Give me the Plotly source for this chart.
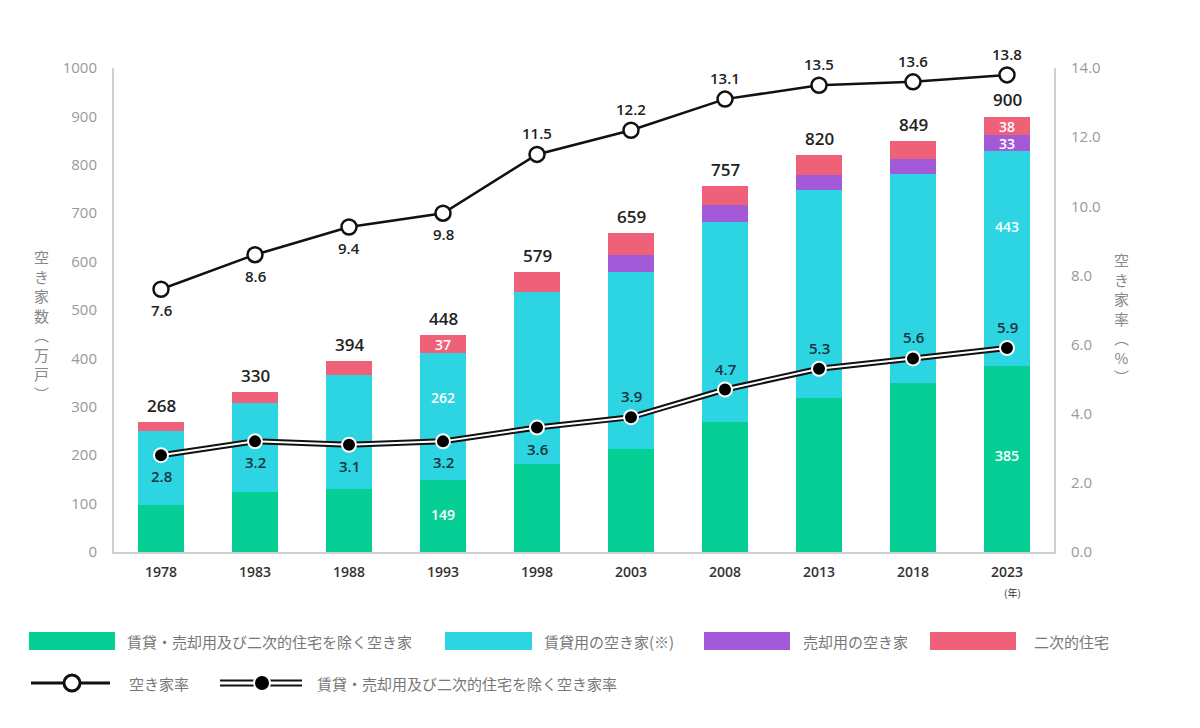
import plotly.graph_objects as go

# ---------------- data ----------------
years = ["1978", "1983", "1988", "1993", "1998", "2003", "2008", "2013", "2018", "2023"]
other = [98, 125, 131, 149, 182, 212, 268, 318, 349, 385]      # 賃貸・売却用及び二次的住宅を除く空き家
rental = [152, 183, 234, 262, 355, 367, 413, 429, 433, 443]    # 賃貸用の空き家
sale = [0, 0, 0, 0, 0, 35, 35, 31, 29, 33]                     # 売却用の空き家
second = [18, 22, 29, 37, 42, 45, 41, 42, 38, 38]              # 二次的住宅
totals = [268, 330, 394, 448, 579, 659, 757, 820, 849, 900]
rate = [7.6, 8.6, 9.4, 9.8, 11.5, 12.2, 13.1, 13.5, 13.6, 13.8]
rate_other = [2.8, 3.2, 3.1, 3.2, 3.6, 3.9, 4.7, 5.3, 5.6, 5.9]

left_ticks = [0, 100, 200, 300, 400, 500, 600, 700, 800, 900, 1000]
right_ticks = [0, 2, 4, 6, 8, 10, 12, 14]
inside_label_years = ["1993", "2023"]
rate_label_below = [True] * 4 + [False] * 6
rate_other_label_below = [True] * 5 + [False] * 5

# ---------------- style ----------------
C_GREEN = "#06cf95"
C_CYAN = "#2dd4e1"
C_PURPLE = "#a25ad8"
C_PINK = "#ef6079"
NUM_FONT = "Open Sans"
JP_FONT = "Noto Sans CJK JP"

OFF = 8  # page body margin
W, H = 1200, 728
# desired plot area on screen: x 114..1054, y 68..552
L, T = 114 - OFF, 68 - OFF
R = W - (1054 - OFF)
B = H - (552 - OFF)
PW, PH = W - L - R, H - T - B


def px2x(px):
    return (px - OFF - L) / PW


def py2y(py):
    return (H - B - (py - OFF)) / PH


fig = go.Figure()

for name, vals, col in [
    ("賃貸・売却用及び二次的住宅を除く空き家", other, C_GREEN),
    ("賃貸用の空き家(※)", rental, C_CYAN),
    ("売却用の空き家", sale, C_PURPLE),
    ("二次的住宅", second, C_PINK),
]:
    fig.add_trace(go.Bar(x=years, y=vals, name=name, marker=dict(color=col, line=dict(width=0)),
                         width=0.48, showlegend=False, hoverinfo="skip"))

# upper line: 空き家率
fig.add_trace(go.Scatter(
    x=years, y=rate, yaxis="y2", mode="lines+markers",
    line=dict(color="#111", width=2.5),
    marker=dict(size=15, color="white", line=dict(color="#111", width=2.5)),
    showlegend=False, hoverinfo="skip", cliponaxis=False))

# lower double line
fig.add_trace(go.Scatter(
    x=years, y=rate_other, yaxis="y2", mode="lines",
    line=dict(color="#111", width=6), showlegend=False, hoverinfo="skip"))
fig.add_trace(go.Scatter(
    x=years, y=rate_other, yaxis="y2", mode="lines+markers",
    line=dict(color="white", width=2),
    marker=dict(size=14, color="#000", line=dict(color="white", width=2)),
    showlegend=False, hoverinfo="skip", cliponaxis=False))

annotations = []
# line value labels
for vals, below_flags, col in [(rate, rate_label_below, "#222"),
                               (rate_other, rate_other_label_below, "#1c3340")]:
    for i, (v, below) in enumerate(zip(vals, below_flags)):
        annotations.append(dict(x=i, y=v, xref="x", yref="y2", text=f"{v:.1f}", showarrow=False,
                                xanchor="center", yanchor="middle", yshift=-21 if below else 21,
                                font=dict(family=NUM_FONT, size=15, color=col, weight=600)))
# totals above bars
for i, tot in enumerate(totals):
    annotations.append(dict(x=i, y=tot, xref="x", yref="y", text=str(tot), showarrow=False,
                            xanchor="center", yanchor="bottom", yshift=3,
                            font=dict(family=NUM_FONT, size=17, color="#222", weight=600)))
# labels inside bars
for i, yr in enumerate(years):
    if yr not in inside_label_years:
        continue
    base = 0
    for vals, frac in [(other, 0.52), (rental, 0.65), (sale, 0.5), (second, 0.5)]:
        v = vals[i]
        if v > 0:
            annotations.append(dict(x=i, y=base + v * frac, xref="x", yref="y", text=str(v),
                                    showarrow=False, xanchor="center", yanchor="middle",
                                    font=dict(family=NUM_FONT, size=14, color="white", weight=600)))
        base += v

# (年)
annotations.append(dict(x=px2x(1012), y=py2y(592), xref="paper", yref="paper", text="(年)",
                        showarrow=False, xanchor="center", yanchor="middle",
                        font=dict(family=JP_FONT, size=10, color="#333")))

# axis titles (vertical)
annotations.append(dict(x=px2x(41), y=py2y(325), xref="paper", yref="paper",
                        text="<br>".join(list("空き家数") + ["︵", "万", "戸", "︶"]),
                        showarrow=False, align="center", xanchor="center", yanchor="middle",
                        font=dict(family=JP_FONT, size=15, color="#888")))
annotations.append(dict(x=px2x(1121), y=py2y(318), xref="paper", yref="paper",
                        text="<br>".join(list("空き家率") + ["︵", "%", "︶"]),
                        showarrow=False, align="center", xanchor="center", yanchor="middle",
                        font=dict(family=JP_FONT, size=15, color="#888")))

# ---------------- custom legend ----------------
shapes = []
legend_rows1 = [
    (29, 115, C_GREEN, 125, "賃貸・売却用及び二次的住宅を除く空き家"),
    (445, 532, C_CYAN, 542, "賃貸用の空き家(※)"),
    (704, 790, C_PURPLE, 801, "売却用の空き家"),
    (930, 1016, C_PINK, 1032, "二次的住宅"),
]
ry1, ry2 = 641, 683
for x0, x1, col, tx, label in legend_rows1:
    shapes.append(dict(type="rect", xref="paper", yref="paper", x0=px2x(x0), x1=px2x(x1),
                       y0=py2y(ry1 + 9), y1=py2y(ry1 - 9), fillcolor=col, line=dict(width=0)))
    annotations.append(dict(x=px2x(tx), y=py2y(ry1), xref="paper", yref="paper", text=label,
                            showarrow=False, xanchor="left", yanchor="middle",
                            font=dict(family=JP_FONT, size=15, color="#777")))

# line legend 1
shapes.append(dict(type="line", xref="paper", yref="paper", x0=px2x(31), x1=px2x(110),
                   y0=py2y(ry2), y1=py2y(ry2), line=dict(color="#111", width=3)))
shapes.append(dict(type="circle", xref="paper", yref="paper", x0=px2x(64), x1=px2x(80),
                   y0=py2y(ry2 + 8), y1=py2y(ry2 - 8), fillcolor="white",
                   line=dict(color="#111", width=3)))
annotations.append(dict(x=px2x(127), y=py2y(ry2), xref="paper", yref="paper", text="空き家率",
                        showarrow=False, xanchor="left", yanchor="middle",
                        font=dict(family=JP_FONT, size=15, color="#777")))
# line legend 2 (double line)
shapes.append(dict(type="line", xref="paper", yref="paper", x0=px2x(220), x1=px2x(302),
                   y0=py2y(ry2), y1=py2y(ry2), line=dict(color="#111", width=7)))
shapes.append(dict(type="line", xref="paper", yref="paper", x0=px2x(220), x1=px2x(302),
                   y0=py2y(ry2), y1=py2y(ry2), line=dict(color="white", width=3)))
shapes.append(dict(type="circle", xref="paper", yref="paper", x0=px2x(254), x1=px2x(270),
                   y0=py2y(ry2 + 8), y1=py2y(ry2 - 8), fillcolor="#000",
                   line=dict(color="white", width=2)))
annotations.append(dict(x=px2x(315), y=py2y(ry2), xref="paper", yref="paper",
                        text="賃貸・売却用及び二次的住宅を除く空き家率",
                        showarrow=False, xanchor="left", yanchor="middle",
                        font=dict(family=JP_FONT, size=15, color="#777")))

fig.update_layout(
    width=W, height=H,
    margin=dict(l=L, r=R, t=T, b=B),
    paper_bgcolor="white", plot_bgcolor="white",
    barmode="stack", bargap=0.52,
    showlegend=False,
    xaxis=dict(type="category", range=[-0.5, len(years) - 0.5], showgrid=False, showline=True,
               linecolor="#cfcfcf", linewidth=2,
               ticks="outside", ticklen=6, tickcolor="rgba(0,0,0,0)",
               tickfont=dict(family=NUM_FONT, size=14, color="#333", weight=600), zeroline=False),
    yaxis=dict(range=[0, 1000], tickvals=left_ticks, showgrid=False, showline=True,
               linecolor="#cfcfcf", linewidth=2, zeroline=False,
               ticks="outside", ticklen=12, tickcolor="rgba(0,0,0,0)",
               tickfont=dict(family=NUM_FONT, size=15, color="#999")),
    yaxis2=dict(range=[0, 14], tickvals=right_ticks, tickformat=".1f", overlaying="y", side="right",
                showgrid=False, showline=True, linecolor="#cfcfcf", linewidth=2, zeroline=False,
                ticks="outside", ticklen=12, tickcolor="rgba(0,0,0,0)",
                tickfont=dict(family=NUM_FONT, size=15, color="#999")),
    annotations=annotations,
    shapes=shapes,
)

fig.write_html("out.html")
